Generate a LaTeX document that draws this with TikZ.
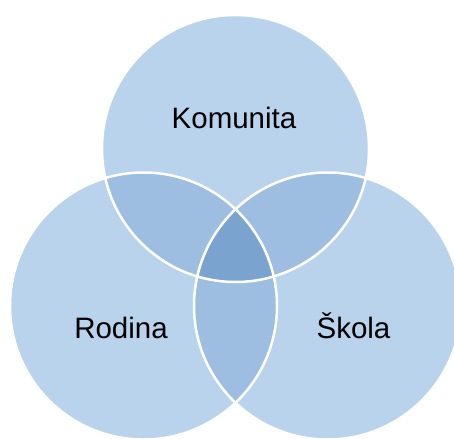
\documentclass[tikz,border=0pt]{standalone}
\usepackage{fontspec}
\setmainfont{Liberation Sans}
\definecolor{vlight}{RGB}{185,211,236}
\definecolor{vmid}{RGB}{157,190,225}
\definecolor{vdark}{RGB}{122,163,207}
\tikzset{
  setlabel/.style={anchor=base, font=\fontsize{29.5}{34}\selectfont, text=black, inner sep=0pt},
  rim/.style={draw=white, line width=2.5pt}
}
\def\rad{133.5pt}
\begin{document}
\begin{tikzpicture}[x=1pt,y=-1pt]
  \useasboundingbox (0,0) rectangle (454,438);
  \clip (0,0) rectangle (454,438);
  \coordinate (ct) at (235.5,148.5);
  \coordinate (cl) at (143.5,306);
  \coordinate (cr) at (327.5,306);
  % single sets
  \fill[vlight] (ct) circle (\rad);
  \fill[vlight] (cl) circle (\rad);
  \fill[vlight] (cr) circle (\rad);
  % pairwise overlaps
  \begin{scope}
    \clip (ct) circle (\rad);
    \fill[vmid] (cl) circle (\rad);
    \fill[vmid] (cr) circle (\rad);
  \end{scope}
  \begin{scope}
    \clip (cl) circle (\rad);
    \fill[vmid] (cr) circle (\rad);
  \end{scope}
  % common part of all three
  \begin{scope}
    \clip (ct) circle (\rad);
    \clip (cl) circle (\rad);
    \fill[vdark] (cr) circle (\rad);
  \end{scope}
  % white outlines
  \draw[rim] (ct) circle (\rad);
  \draw[rim] (cl) circle (\rad);
  \draw[rim] (cr) circle (\rad);
  % labels
  \node[setlabel] (komunita) at (234,129) {Komunita};
  \node[setlabel] (rodina) at (121,338) {Rodina};
  \node[setlabel] (skola) at (353.5,338) {Škola};
\end{tikzpicture}
\end{document}
